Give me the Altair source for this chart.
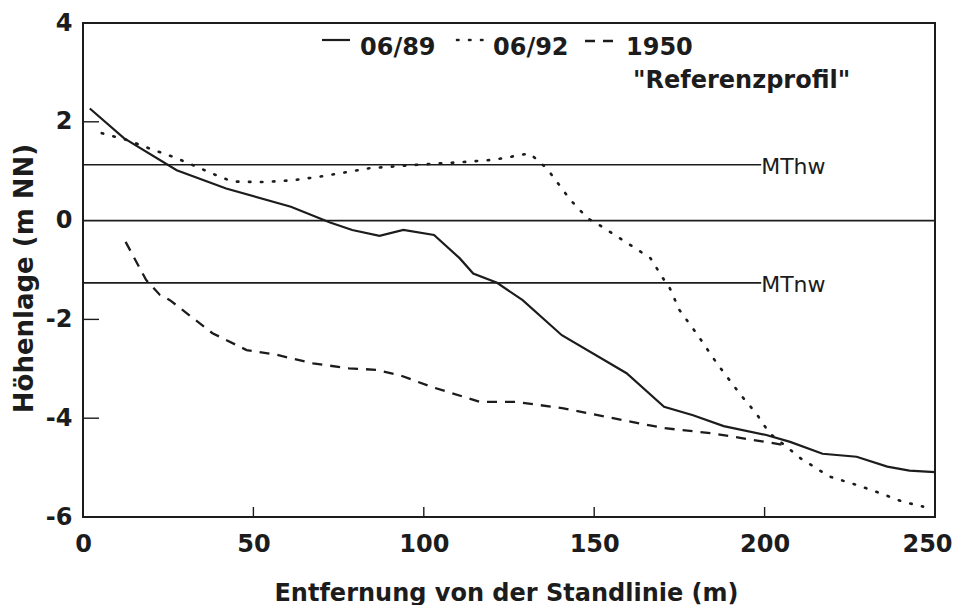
import altair as alt
import pandas as pd

# ---- data ----
s89_x = [2, 12, 27.5, 42, 61, 72.5, 79, 87, 94, 103, 110.5, 114.5, 121.5, 129, 140.5, 159.5, 170.5, 179, 188, 200.5, 207.5, 217, 227, 236, 242.5, 250]
s89_y = [2.27, 1.67, 1.02, 0.65, 0.28, -0.04, -0.19, -0.31, -0.19, -0.29, -0.76, -1.07, -1.26, -1.61, -2.32, -3.09, -3.77, -3.94, -4.16, -4.34, -4.48, -4.72, -4.78, -4.98, -5.06, -5.09]

s92_x = [5.5, 13, 19.5, 26.5, 33, 40, 44, 53, 62, 69.5, 76.5, 84, 98, 112.5, 120.5, 131, 134, 136.5, 143, 148, 151.5, 160.5, 166.5, 170.5, 172, 175, 180, 186, 193, 197.5, 201.5, 206.5, 210.5, 219, 227, 234, 240.5, 246.5]
s92_y = [1.77, 1.63, 1.46, 1.29, 1.10, 0.89, 0.79, 0.78, 0.82, 0.89, 0.97, 1.06, 1.13, 1.19, 1.23, 1.36, 1.19, 1.02, 0.42, 0.05, -0.09, -0.49, -0.76, -1.2, -1.34, -1.81, -2.28, -2.89, -3.53, -3.9, -4.31, -4.58, -4.81, -5.18, -5.35, -5.52, -5.69, -5.79]

s50_x = [12.5, 18.5, 22.5, 25.5, 38, 48, 57, 67.5, 78, 86, 93, 102, 116.5, 127, 141, 155.5, 170.5, 185, 196.5, 205.5]
s50_y = [-0.43, -1.2, -1.5, -1.61, -2.28, -2.62, -2.72, -2.89, -2.99, -3.02, -3.13, -3.36, -3.67, -3.67, -3.8, -4.0, -4.2, -4.31, -4.44, -4.54]

ref_names = ["MThw", "MTnw"]
ref_levels = [1.13, -1.26]
ref_end = 199

x_ticks = [0, 50, 100, 150, 200, 250]
y_ticks = [4, 2, 0, -2, -4, -6]
x_inner_ticks = [50, 100, 150, 200]
y_inner_ticks = [2, -2, -4]

legend_labels = ["06/89", "06/92", "1950", "\"Referenzprofil\""]

x_title = "Entfernung von der Standlinie (m)"
y_title = "Höhenlage (m NN)"

# ---- styling ----
INK = "#1c1c1c"
FONT = "DejaVu Sans"
W, H = 852, 494

xscale = alt.Scale(domain=[0, 250], nice=False, zero=False)
yscale = alt.Scale(domain=[-6, 4], nice=False, zero=False)

xaxis = alt.Axis(values=x_ticks, ticks=False, domain=False, grid=False,
                 labelFont=FONT, labelFontSize=24, labelFontWeight="bold",
                 labelColor=INK, labelPadding=15, labelExpr="'' + datum.value",
                 labelOffset={"condition": {"test": "datum.value == 250", "value": -8}, "value": 0},
                 title=x_title, titleFont=FONT, titleFontSize=24,
                 titleFontWeight="bold", titleColor=INK,
                 titleBaseline="alphabetic", titleY=83, titleX=W / 2 - 3,
                 titleAnchor="middle", labelFlush=False)
yaxis = alt.Axis(values=y_ticks, ticks=False, domain=False, grid=False,
                 labelFont=FONT, labelFontSize=24, labelFontWeight="bold",
                 labelColor=INK, labelPadding=11, labelExpr="'' + datum.value",
                 labelBaseline="middle", labelFlush=False,
                 title=y_title, titleFont=FONT, titleFontSize=26,
                 titleFontWeight="bold", titleColor=INK, titleAngle=270,
                 titleBaseline="alphabetic", titleAlign="center",
                 titleX=-51, titleY=255)


def X(field="x"):
    return alt.X(f"{field}:Q", scale=xscale, axis=xaxis)


def Y(field="y"):
    return alt.Y(f"{field}:Q", scale=yscale, axis=yaxis)


df89 = pd.DataFrame({"x": s89_x, "y": s89_y})
df92 = pd.DataFrame({"x": s92_x, "y": s92_y})
df50 = pd.DataFrame({"x": s50_x, "y": s50_y})

line89 = alt.Chart(df89).mark_line(color=INK, strokeWidth=2.2).encode(x=X(), y=Y())
line92 = alt.Chart(df92).mark_line(color=INK, strokeWidth=2.6, strokeDash=[1.5, 10.5],
                                   strokeCap="round").encode(x=X(), y=Y())
line50 = alt.Chart(df50).mark_line(color=INK, strokeWidth=2.3, strokeDash=[10, 8]).encode(x=X(), y=Y())

# reference levels
dfref = pd.DataFrame({"x": [0] * len(ref_levels), "x2": [ref_end] * len(ref_levels),
                      "y": ref_levels, "name": ref_names})
ref_rules = alt.Chart(dfref).mark_rule(color=INK, strokeWidth=1.6).encode(
    x=X(), x2=alt.X2("x2"), y=Y())
ref_text = alt.Chart(dfref).mark_text(font=FONT, fontSize=22, color=INK, align="left",
                                      baseline="middle", dy=2).encode(
    x=alt.X("x2:Q", scale=xscale, axis=xaxis), y=Y(), text="name:N")

dfzero = pd.DataFrame({"y": [0]})
zero_rule = alt.Chart(dfzero).mark_rule(color=INK, strokeWidth=1.6).encode(y=Y())

# inward ticks
dfxt = pd.DataFrame({"x": x_inner_ticks})
xt = alt.Chart(dfxt).mark_rule(color=INK, strokeWidth=1.4).encode(
    x=X(), y=alt.value(H), y2=alt.value(H - 10))
dfyt = pd.DataFrame({"y": y_inner_ticks})
yt = alt.Chart(dfyt).mark_rule(color=INK, strokeWidth=1.4).encode(
    y=Y(), x=alt.value(0), x2=alt.value(16))

# manual legend
leg_solid = alt.Chart(dfzero).mark_rule(color=INK, strokeWidth=2.2).encode(
    x=alt.value(239), x2=alt.value(267), y=alt.value(17))
leg_dot = alt.Chart(dfzero).mark_rule(color=INK, strokeWidth=2.6, strokeDash=[1.5, 10.5],
                                      strokeCap="round").encode(
    x=alt.value(374), x2=alt.value(404), y=alt.value(17))
leg_dash = alt.Chart(dfzero).mark_rule(color=INK, strokeWidth=2.3, strokeDash=[10, 8]).encode(
    x=alt.value(502), x2=alt.value(534), y=alt.value(18))


def leg_text(txt, xpos, ypos):
    return alt.Chart(dfzero).mark_text(font=FONT, fontSize=24, fontWeight="bold", color=INK,
                                       align="left", baseline="alphabetic", text=txt).encode(
        x=alt.value(xpos), y=alt.value(ypos))


legend = (leg_solid + leg_dot + leg_dash
          + leg_text(legend_labels[0], 277, 32)
          + leg_text(legend_labels[1], 410, 32)
          + leg_text(legend_labels[2], 543, 32)
          + leg_text(legend_labels[3], 550, 65))

chart = alt.layer(
    zero_rule, ref_rules, ref_text, xt, yt, line50, line92, line89, legend
).properties(
    width=W, height=H,
    autosize=alt.AutoSizeParams(type="none"),
    padding={"left": 75, "top": 15, "right": 19, "bottom": 88},
    background="white",
).configure_view(
    stroke=INK, strokeWidth=2
)

chart.save("out.html", embed_options={"renderer": "svg", "actions": False})
